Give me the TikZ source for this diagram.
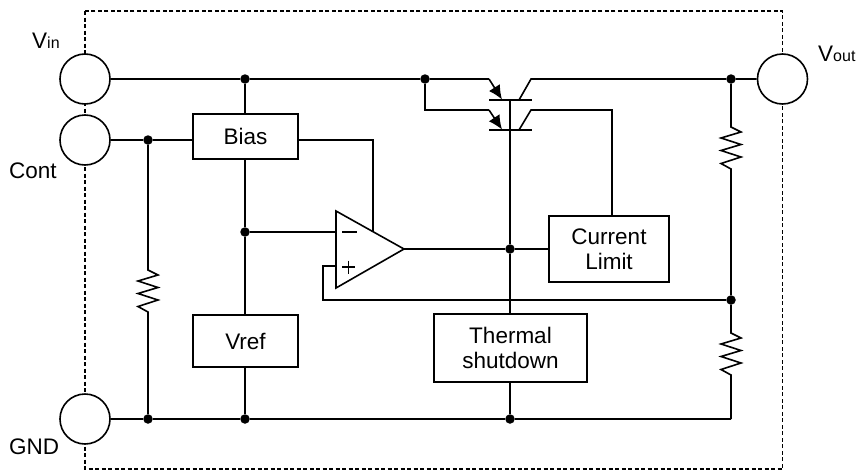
\documentclass[tikz,border=0pt]{standalone}
\usepackage{fontspec}
\setmainfont{Liberation Sans}
\usetikzlibrary{arrows.meta,calc}
\tikzset{
  x=1pt,y=-1pt,
  wire/.style={line width=1.6pt,line join=miter},
  pin/.style={circle,draw,line width=1.6pt,fill=white,minimum size=50pt,inner sep=0pt},
  blockbox/.style={draw,line width=1.6pt,fill=white,inner sep=0pt,align=center,font=\fontsize{22.5}{26}\selectfont},
  dot/.style={circle,fill=black,minimum size=9.5pt,inner sep=0pt},
  lab/.style={font=\fontsize{22.5}{26}\selectfont,inner sep=0pt},
  tip/.style={-{Latex[length=14pt,width=13pt]}},
}
\newcommand{\Vsub}[2]{#1{\fontsize{16}{18}\selectfont #2}}
\newcommand{\zigzag}[1]{-- ++(10,5) -- ++(-20,6) -- ++(20,6.5) -- ++(-20,6) -- ++(20,6.5) -- ++(-20,6.5) -- ++(10,5.5)}
\begin{document}
\begin{tikzpicture}
\useasboundingbox (0,0) rectangle (859,471);
% package outline
\draw[line width=1.3pt,dash pattern=on 4pt off 2.5pt] (85,11) rectangle (782.7,469);
% pins
\node[pin] (vin) at (85,79) {};
\node[pin] (cont) at (85,140) {};
\node[pin] (gnd) at (85,419) {};
\node[pin] (vout) at (782.5,79) {};
% blocks
\node[blockbox,minimum width=105pt,minimum height=45pt] (bias) at (245.5,136.5) {Bias};
\node[blockbox,minimum width=105pt,minimum height=52pt] (vref) at (245.5,341) {Vref};
\node[blockbox,minimum width=120pt,minimum height=66pt] (limit) at (609,249) {Current\\[-1pt]Limit};
\node[blockbox,minimum width=153pt,minimum height=68pt] (thermal) at (510.5,348) {Thermal\\[-1pt]shutdown};
% junctions
\node[dot] (jc) at (148,140) {};
\node[dot] (jg1) at (148,419) {};
\node[dot] (jv) at (245,79) {};
\node[dot] (jm) at (245,232) {};
\node[dot] (jg2) at (245,419) {};
\node[dot] (jq) at (425,79) {};
\node[dot] (jo) at (510,249) {};
\node[dot] (jg3) at (510,419) {};
\node[dot] (jt) at (731,79) {};
\node[dot] (jf) at (731,300) {};
% helper coordinates
\coordinate (ampA) at (336,211);
\coordinate (ampB) at (336,288);
\coordinate (ampT) at (404,249);
\coordinate (ampM) at (336,232);
\coordinate (ampP) at (336,266);
\coordinate (ampS) at (373,232);
\coordinate (e1) at (502,99.5);
\coordinate (e2) at (502,129.5);
\coordinate (b1) at (510,100);
\coordinate (g4) at (731,419);
% wires along the supply
\draw[wire] (vin) -- (jv) -- (jq) -- (489,79);
\draw[wire,tip] (489,79) -- (e1);
\draw[wire] (jq) |- (489,110);
\draw[wire,tip] (489,110) -- (e2);
\draw[wire] (489,100) -- (532,100);
\draw[wire] (489,130) -- (532,130);
\draw[wire] (519,100) -- (531,79) -- (jt) -- (vout);
\draw[wire] (519,130) -- (531,110) -- (612,110) -- (612,216);
\draw[wire] (b1) -- (jo) -- (thermal.north -| jo);
% left side
\draw[wire] (cont) -- (jc) -- (bias.west |- jc);
\draw[wire] (jv) -- (bias.north -| jv);
\draw[wire] (bias.south -| jv) -- (jm) -- (vref.north -| jm);
\draw[wire] (vref.south -| jg2) -- (jg2);
\draw[wire] (jc) -- (148,270) \zigzag{} -- (jg1);
\draw[wire] (gnd) -- (jg1) -- (jg2) -- (jg3) -- (g4);
% amplifier
\draw[wire] (ampA) -- (ampT) -- (ampB) -- cycle;
\draw[wire] (jm) -- (ampM);
\draw[wire] (bias.east |- jc) -- (373,140) -- (ampS);
\draw[wire] (ampT) -- (jo) -- (limit.west |- jo);
\draw[wire] (ampP) -- (323,266) -- (323,300) -- (jf);
\draw[line width=1.6pt] (342,232) -- (357,232);
\draw[line width=1.6pt] (342,267) -- (355,267) (348.5,260.5) -- (348.5,273.5);
% right side
\draw[wire] (jt) -- (731,127) \zigzag{} -- (jf);
\draw[wire] (jf) -- (731,333) \zigzag{} -- (g4);
\draw[wire] (thermal.south -| jg3) -- (jg3);
% labels
\node[lab,anchor=base west] (tin) at (32,48) {\Vsub{V}{in}};
\node[lab,anchor=base west] (tout) at (818,61) {\Vsub{V}{out}};
\node[lab,anchor=base west] (tcont) at (9,178) {Cont};
\node[lab,anchor=base west] (tgnd) at (9,454) {GND};
\end{tikzpicture}
\end{document}
